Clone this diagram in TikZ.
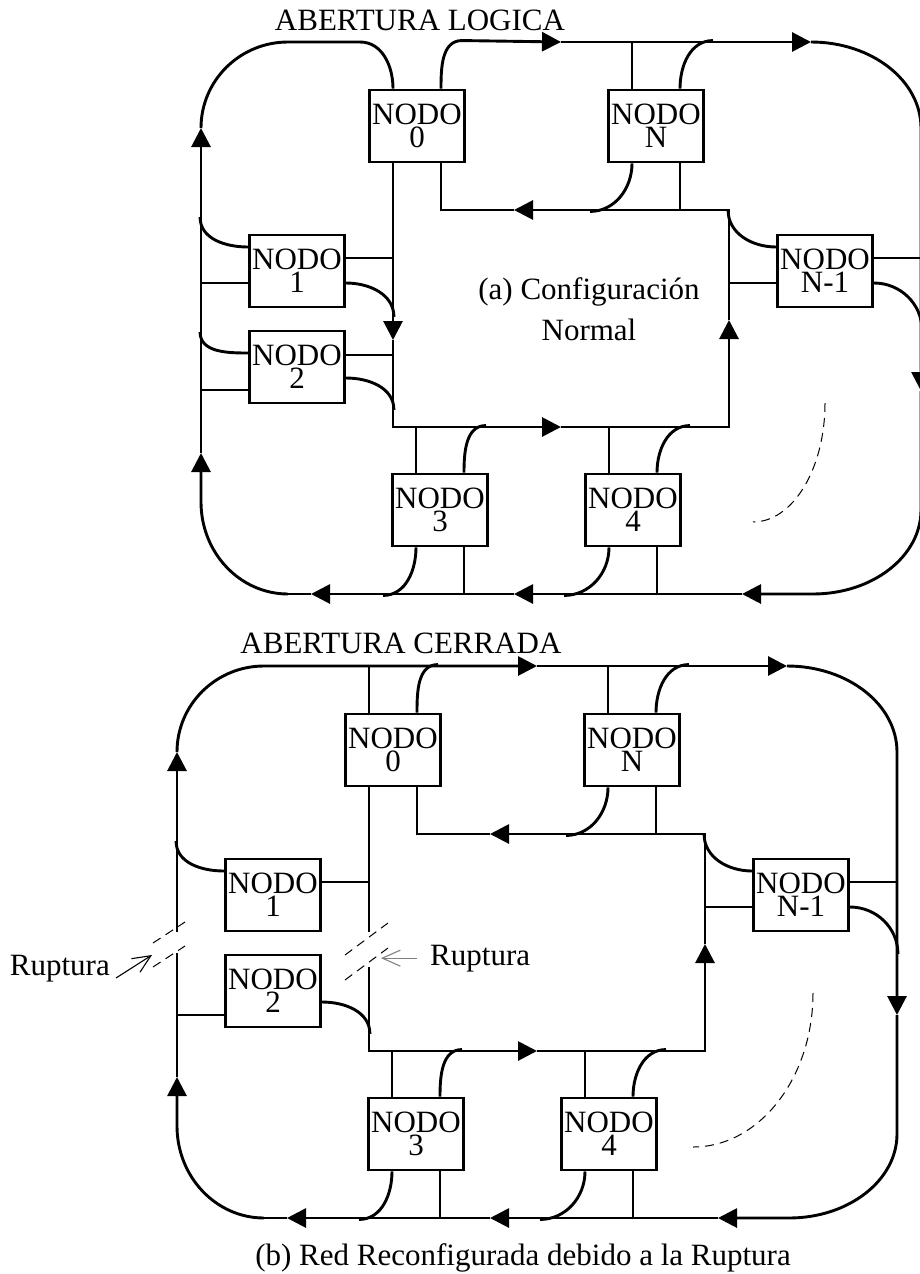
\documentclass[tikz,border=0pt]{standalone}
\usepackage{fontspec}
\setmainfont{Liberation Serif}
\usetikzlibrary{arrows.meta}

\begin{document}
\begin{tikzpicture}[x=1pt,y=1pt,
  linea/.style={line width=2.9pt},
  flecha/.style={-{Triangle[length=19pt,width=19pt]}},
  guion/.style={line width=1pt,dash pattern=on 9pt off 6pt},
  flechita/.style={line width=1.1pt,-{Straight Barb[length=18pt,width=16pt]}},
  nodo/.style={draw,line width=2.9pt,minimum width=95pt,minimum height=72pt,inner sep=0pt,align=center,font={\fontsize{31}{23}\selectfont}},
  texto/.style={font={\fontsize{31}{41}\selectfont},inner sep=0pt}]
  \useasboundingbox (0,0) rectangle (919,-1274);
  % (a) configuracion normal
  \node[texto,anchor=base] (tituloa) at (420,-30) {ABERTURA LOGICA};
  \node[texto,align=center] (leyendaa) at (589,-309) {(a) Configuración\\Normal};
  \node[nodo] (a0) at (417,-126) {NODO\\0};
  \node[nodo] (aN) at (656,-126) {NODO\\N};
  \node[nodo] (a1) at (297,-271) {NODO\\1};
  \node[nodo] (a2) at (297,-367) {NODO\\2};
  \node[nodo] (aM) at (825,-271) {NODO\\N-1};
  \node[nodo] (a3) at (440,-510) {NODO\\3};
  \node[nodo] (a4) at (633,-510) {NODO\\4};
  % anillo exterior
  \draw[linea,flecha] (288,-594) arc[start angle=270,end angle=180,x radius=87,y radius=92] -- (201,-453);
  \draw[linea,flecha] (201,-453) -- (201,-128);
  \draw[linea] (201,-128) arc[start angle=180,end angle=90,x radius=87,y radius=86] -- (360,-42) to[out=0,in=90] ([xshift=-24pt]a0.north);
  \draw[linea,flecha] ([xshift=24pt]a0.north) to[out=90,in=180] ++(21,48) -- (561,-42);
  \draw[linea,flecha] (561,-42) -- (811,-42);
  \draw[linea,flecha] (811,-42) arc[start angle=90,end angle=0,x radius=110,y radius=86] -- (921,-391);
  \draw[linea,flecha] (921,-391) -- (921,-510) arc[start angle=0,end angle=-90,x radius=108,y radius=84] -- (742,-594);
  \draw[linea,flecha] (742,-594) -- (514,-594);
  \draw[linea,flecha] (514,-594) -- (311,-594);
  \draw[linea] (311,-594) -- (288,-594);
  % anillo interior
  \draw[linea,flecha] ([xshift=-24pt]a0.south) -- (393,-340);
  \draw[linea,flecha] (393,-340) |- (561,-427);
  \draw[linea,flecha] (561,-427) -| (729,-320);
  \draw[linea,flecha] (729,-320) |- (514,-210);
  \draw[linea] (514,-210) -| ([xshift=24pt]a0.south);
  % derivaciones
  \draw[linea] ([yshift=24pt]a1.west) to[out=180,in=-90] ++(-48,30);
  \draw[linea] ([yshift=-12pt]a1.west) -- ++(-48,0);
  \draw[linea] ([yshift=13pt]a1.east) -- ++(48,0);
  \draw[linea] ([yshift=-12pt]a1.east) to[out=0,in=90] ++(48,-34);
  \draw[linea] ([yshift=14pt]a2.west) to[out=180,in=-90] ++(-48,21);
  \draw[linea] ([yshift=-23pt]a2.west) -- ++(-48,0);
  \draw[linea] ([yshift=12pt]a2.east) -- ++(48,0);
  \draw[linea] ([yshift=-11pt]a2.east) to[out=0,in=90] ++(48,-32);
  \draw[linea] ([yshift=24pt]aM.west) to[out=180,in=-90] ++(-48,37);
  \draw[linea] ([yshift=-12pt]aM.west) -- ++(-48,0);
  \draw[linea] ([yshift=13pt]aM.east) -- ++(48,0);
  \draw[linea] ([yshift=-12pt]aM.east) to[out=0,in=90] ++(48,-47);
  \draw[linea] ([xshift=-24pt]aN.north) -- ++(0,48);
  \draw[linea] ([xshift=24pt]aN.north) to[out=90,in=180] ++(33,48);
  \draw[linea] ([xshift=-24pt]aN.south) to[out=-90,in=0] ++(-42,-48);
  \draw[linea] ([xshift=24pt]aN.south) -- ++(0,-48);
  \draw[linea] ([xshift=-24pt]a3.north) -- ++(0,47);
  \draw[linea] ([xshift=24pt]a3.north) to[out=90,in=180] ++(22,47);
  \draw[linea] ([xshift=-24pt]a3.south) to[out=-90,in=0] ++(-33,-48);
  \draw[linea] ([xshift=24pt]a3.south) -- ++(0,-48);
  \draw[linea] ([xshift=-24pt]a4.north) -- ++(0,47);
  \draw[linea] ([xshift=24pt]a4.north) to[out=90,in=180] ++(33,47);
  \draw[linea] ([xshift=-24pt]a4.south) to[out=-90,in=0] ++(-45,-48);
  \draw[linea] ([xshift=24pt]a4.south) -- ++(0,-48);
  \draw[guion] (825,-403) arc[start angle=0,end angle=-90,x radius=72,y radius=119];

  % (b) red reconfigurada
  \begin{scope}[shift={(-24,-624)}]
  \node[texto,anchor=base] (titulob) at (425,-29) {ABERTURA CERRADA};
  \node[texto,anchor=base] (leyendab) at (547,-641) {(b) Red Reconfigurada debido a la Ruptura};
  \node[nodo] (b0) at (417,-126) {NODO\\0};
  \node[nodo] (bN) at (656,-126) {NODO\\N};
  \node[nodo] (b1) at (297,-271) {NODO\\1};
  \node[nodo] (b2) at (297,-367) {NODO\\2};
  \node[nodo] (bM) at (825,-271) {NODO\\N-1};
  \node[nodo] (b3) at (440,-510) {NODO\\3};
  \node[nodo] (b4) at (633,-510) {NODO\\4};
  % anillo exterior
  \draw[linea,flecha] (288,-594) arc[start angle=270,end angle=180,x radius=87,y radius=92] -- (201,-453);
  \draw[linea] (201,-453) -- (201,-329);
  \draw[linea,flecha] (201,-308) -- (201,-128);
  \draw[linea,flecha] (201,-128) arc[start angle=180,end angle=90,x radius=87,y radius=86] -- (561,-42);
  \draw[linea,flecha] (561,-42) -- (811,-42);
  \draw[linea,flecha] (811,-42) arc[start angle=90,end angle=0,x radius=110,y radius=86] -- (921,-391);
  \draw[linea,flecha] (921,-391) -- (921,-510) arc[start angle=0,end angle=-90,x radius=108,y radius=84] -- (742,-594);
  \draw[linea,flecha] (742,-594) -- (514,-594);
  \draw[linea,flecha] (514,-594) -- (311,-594);
  \draw[linea] (311,-594) -- (288,-594);
  % anillo interior
  \draw[linea] ([xshift=-24pt]b0.south) -- (393,-308);
  \draw[linea,flecha] (393,-343) |- (561,-427);
  \draw[linea,flecha] (561,-427) -| (729,-320);
  \draw[linea,flecha] (729,-320) |- (514,-210);
  \draw[linea] (514,-210) -| ([xshift=24pt]b0.south);
  % derivaciones
  \draw[linea] ([xshift=-24pt]b0.north) -- ++(0,48);
  \draw[linea] ([xshift=24pt]b0.north) to[out=90,in=180] ++(21,48);
  \draw[linea] ([yshift=24pt]b1.west) to[out=180,in=-90] ++(-48,30);
  \draw[linea] ([yshift=13pt]b1.east) -- ++(48,0);
  \draw[linea] ([yshift=-24pt]b2.west) -- ++(-48,0);
  \draw[linea] ([yshift=-11pt]b2.east) to[out=0,in=90] ++(48,-32);
  \draw[linea] ([yshift=24pt]bM.west) to[out=180,in=-90] ++(-48,37);
  \draw[linea] ([yshift=-12pt]bM.west) -- ++(-48,0);
  \draw[linea] ([yshift=13pt]bM.east) -- ++(48,0);
  \draw[linea] ([yshift=-12pt]bM.east) to[out=0,in=90] ++(48,-47);
  \draw[linea] ([xshift=-24pt]bN.north) -- ++(0,48);
  \draw[linea] ([xshift=24pt]bN.north) to[out=90,in=180] ++(33,48);
  \draw[linea] ([xshift=-24pt]bN.south) to[out=-90,in=0] ++(-42,-48);
  \draw[linea] ([xshift=24pt]bN.south) -- ++(0,-48);
  \draw[linea] ([xshift=-24pt]b3.north) -- ++(0,47);
  \draw[linea] ([xshift=24pt]b3.north) to[out=90,in=180] ++(22,47);
  \draw[linea] ([xshift=-24pt]b3.south) to[out=-90,in=0] ++(-33,-48);
  \draw[linea] ([xshift=24pt]b3.south) -- ++(0,-48);
  \draw[linea] ([xshift=-24pt]b4.north) -- ++(0,47);
  \draw[linea] ([xshift=24pt]b4.north) to[out=90,in=180] ++(33,47);
  \draw[linea] ([xshift=-24pt]b4.south) to[out=-90,in=0] ++(-45,-48);
  \draw[linea] ([xshift=24pt]b4.south) -- ++(0,-48);
  \draw[guion] (837,-369) arc[start angle=0,end angle=-90,x radius=120,y radius=154];
  % rupturas
  \draw[guion] (177,-319) -- (209,-298);
  \draw[guion] (177,-343) -- (209,-322);
  \draw[guion] (369,-331) -- (412,-299);
  \draw[guion] (369,-356) -- (412,-324);
  \node[texto,anchor=base east] (ruptizq) at (134,-351) {Ruptura};
  \node[texto,anchor=base west] (ruptder) at (454,-341) {Ruptura};
  \draw[flechita] ([xshift=6pt,yshift=-3pt]ruptizq.base east) -- ++(36,23);
  \draw[flechita,gray] ([xshift=-13pt]ruptder.west) -- ++(-36,0);
  \end{scope}
\end{tikzpicture}
\end{document}
